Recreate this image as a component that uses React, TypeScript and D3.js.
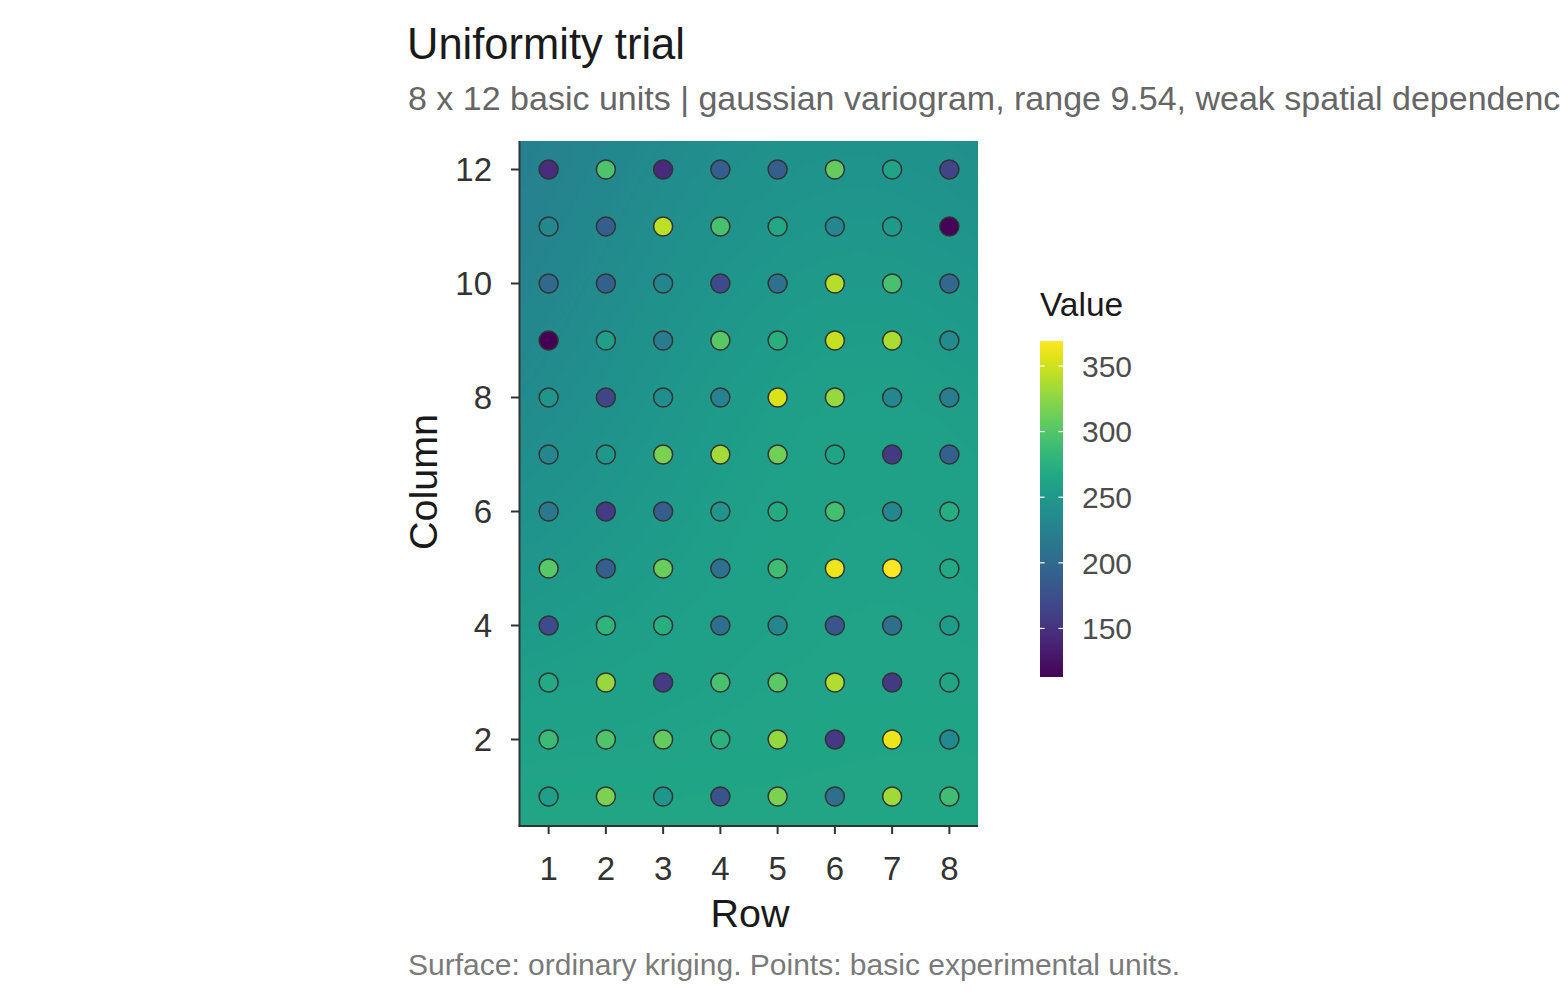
import * as d3 from "d3";
import { useMemo } from "react";

// plot layout: rows run along x, columns along y
const rowIds = [1, 2, 3, 4, 5, 6, 7, 8];
const columnIds = [1, 2, 3, 4, 5, 6, 7, 8, 9, 10, 11, 12];

// yield of each basic unit, one array per column (rows 1..8)
const col1 = [256, 318, 247, 178, 318, 205, 332, 290];
const col2 = [287, 298, 308, 276, 327, 156, 361, 233];
const col3 = [267, 329, 157, 295, 303, 338, 155, 264];
const col4 = [170, 279, 274, 205, 231, 180, 205, 252];
const col5 = [302, 188, 310, 207, 290, 361, 369, 267];
const col6 = [215, 157, 188, 246, 269, 292, 230, 271];
const col7 = [230, 249, 318, 333, 313, 262, 156, 190];
const col8 = [246, 164, 238, 226, 354, 328, 230, 220];
const col9 = [113, 256, 218, 302, 274, 346, 336, 234];
const col10 = [198, 190, 228, 170, 207, 340, 294, 198];
const col11 = [232, 188, 343, 294, 266, 230, 251, 115];
const col12 = [145, 297, 143, 188, 188, 308, 261, 164];
const valueGrid = [col1, col2, col3, col4, col5, col6, col7, col8, col9, col10, col11, col12];

const yTicks = [2, 4, 6, 8, 10, 12];
const legendBreaks = [150, 200, 250, 300, 350];

const font = "'Liberation Sans', Arial, sans-serif";

const App = () => {
  const width = 1560;
  const height = 1008;
  const left = 520;
  const right = 978;
  const top = 141;
  const bottom = 825;

  const points = columnIds.flatMap((c, ci) =>
    rowIds.map((r, ri) => ({ row: r, col: c, value: valueGrid[ci][ri] }))
  );

  const x = d3.scaleLinear().domain([0.5, 8.5]).range([left, right]);
  const y = d3.scaleLinear().domain([0.5, 12.5]).range([bottom, top]);
  const extent = d3.extent(points, (d) => d.value) as [number, number];
  const color = d3.scaleSequential(d3.interpolateViridis).domain(extent);

  // smoothed surface (gaussian kernel) drawn into a small canvas
  const surface = useMemo(() => {
    const cw = 115;
    const ch = 171;
    const canvas = document.createElement("canvas");
    canvas.width = cw;
    canvas.height = ch;
    const ctx = canvas.getContext("2d");
    if (!ctx) return "";
    const img = ctx.createImageData(cw, ch);
    const sigma = 2.8;
    for (let j = 0; j < ch; j++) {
      for (let i = 0; i < cw; i++) {
        const dx = x.invert(left + ((i + 0.5) * (right - left)) / cw);
        const dy = y.invert(top + ((j + 0.5) * (bottom - top)) / ch);
        let sw = 0;
        let sv = 0;
        points.forEach((p) => {
          const d2 = (p.row - dx) ** 2 + (p.col - dy) ** 2;
          const w = Math.exp(-d2 / (2 * sigma * sigma));
          sw += w;
          sv += w * p.value;
        });
        const c = d3.rgb(color(sv / sw));
        const k = (j * cw + i) * 4;
        img.data[k] = c.r;
        img.data[k + 1] = c.g;
        img.data[k + 2] = c.b;
        img.data[k + 3] = 255;
      }
    }
    ctx.putImageData(img, 0, 0);
    return canvas.toDataURL();
  }, []);

  // legend
  const legX = 1040;
  const legW = 23;
  const legTop = 341;
  const legBottom = 677;
  const ly = d3.scaleLinear().domain(extent).range([legBottom, legTop]);
  const stops = d3.range(0, 1.0001, 0.05);

  return (
    <svg
      width={width}
      height={height}
      style={{ position: "absolute", left: 0, top: 0, background: "#fff" }}
      fontFamily={font}
    >
      <defs>
        <linearGradient id="legendGrad" x1="0" y1="1" x2="0" y2="0">
          {stops.map((t) => (
            <stop key={t} offset={t} stopColor={d3.interpolateViridis(t)} />
          ))}
        </linearGradient>
      </defs>

      <text x={407} y={59} fontSize={43.5} fill="#1a1a1a">
        Uniformity trial
      </text>
      <text x={408} y={110} fontSize={34} fill="#666666">
        8 x 12 basic units | gaussian variogram, range 9.54, weak spatial dependence
      </text>

      {surface && (
        <image
          href={surface}
          x={left}
          y={top}
          width={right - left}
          height={bottom - top}
          preserveAspectRatio="none"
        />
      )}

      {points.map((p) => (
        <circle
          key={`${p.row}-${p.col}`}
          cx={x(p.row)}
          cy={y(p.col)}
          r={9.5}
          fill={color(p.value)}
          stroke="#333333"
          strokeWidth={1.5}
        />
      ))}

      {/* axes */}
      <line x1={519.5} x2={519.5} y1={top} y2={826.5} stroke="#333333" strokeWidth={2} />
      <line x1={518.5} x2={right} y1={826} y2={826} stroke="#333333" strokeWidth={2} />
      {yTicks.map((t) => (
        <g key={`y${t}`}>
          <line x1={511} x2={519} y1={y(t)} y2={y(t)} stroke="#333333" strokeWidth={2} />
          <text
            x={492}
            y={y(t)}
            dy="0.36em"
            textAnchor="end"
            fontSize={33}
            fill="#333333"
          >
            {t}
          </text>
        </g>
      ))}
      {rowIds.map((t) => (
        <g key={`x${t}`}>
          <line x1={x(t)} x2={x(t)} y1={826} y2={834} stroke="#333333" strokeWidth={2} />
          <text x={x(t)} y={880} textAnchor="middle" fontSize={33} fill="#333333">
            {t}
          </text>
        </g>
      ))}
      <text x={750} y={927} textAnchor="middle" fontSize={39.5} fill="#1a1a1a">
        Row
      </text>
      <text
        transform="translate(437,482) rotate(-90)"
        textAnchor="middle"
        fontSize={39.5}
        fill="#1a1a1a"
      >
        Column
      </text>

      {/* legend */}
      <text x={legX} y={316} fontSize={33.5} fill="#1a1a1a">
        Value
      </text>
      <rect x={legX} y={legTop} width={legW} height={legBottom - legTop} fill="url(#legendGrad)" />
      {legendBreaks.map((b) => (
        <g key={`l${b}`}>
          <line x1={legX} x2={legX + legW / 5} y1={ly(b)} y2={ly(b)} stroke="#ffffff" strokeWidth={1.2} />
          <line
            x1={legX + legW - legW / 5}
            x2={legX + legW}
            y1={ly(b)}
            y2={ly(b)}
            stroke="#ffffff"
            strokeWidth={1.2}
          />
          <text x={1082} y={ly(b)} dy="0.36em" fontSize={30} fill="#4d4d4d">
            {b}
          </text>
        </g>
      ))}

      <text x={408} y={975} fontSize={30} fill="#7a7a7a">
        Surface: ordinary kriging. Points: basic experimental units.
      </text>
    </svg>
  );
};

export default App;
